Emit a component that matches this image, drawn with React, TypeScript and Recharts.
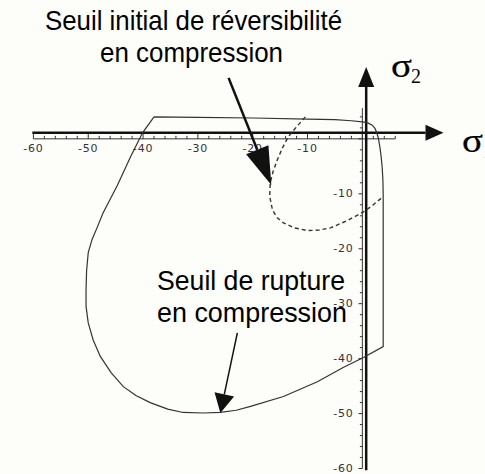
import { LineChart, Line, XAxis, YAxis, ReferenceLine } from 'recharts';

const W = 485;
const H = 474;

// contour du seuil de rupture (trait plein), parcouru dans le sens horaire
const ruptureX = [-38, -30, -20, -10, -5, -2, 0, 1, 1.8, 2.3, 2.6, 2.9, 3.2, 3.4, 3.6, 3.75, 3.8, 3.8,
  0.2, -3.5, -8.2, -14.4, -20.4, -23, -25.9, -29, -32.7, -35.5, -38.7, -41.3, -43.6, -45.8, -47.8,
  -49.1, -50, -50.4, -50.4, -50.3, -50, -49.3, -48.4, -47.3, -46, -44.7, -42.3, -40.1, -38];
const ruptureY = [4, 3.9, 3.8, 3.6, 3.5, 3.3, 3.1, 2.9, 2.5, 1.9, 1.2, 0.2, -1.5, -3, -5, -7.5, -10, -37.8,
  -39.8, -41.6, -44.2, -46.9, -48.7, -49.4, -49.8, -49.9, -49.8, -49.2, -48, -46.7, -45.1, -42.6, -39.6,
  -36.6, -33.5, -30.5, -27.5, -24, -20.7, -18.3, -16.2, -13.5, -11, -8.5, -3.3, 1.1, 4];

// seuil initial de réversibilité (pointillés)
const initialX = [-10.4, -12, -13.5, -14.6, -15.5, -16.3, -16.8, -16.9, -16.4, -15.6, -14.4, -12.4, -10,
  -7.9, -5.8, -2.8, 0.2, 2, 3.8];
const initialY = [4, 2.2, 0.4, -1.7, -3.8, -6, -8, -10.5, -12.9, -14.3, -15.3, -16.2, -16.7,
  -16.6, -16.2, -14.9, -13.3, -12, -10.5];

const xLabels = [-60, -50, -40, -30, -20, -10];
const yLabels = [-10, -20, -30, -40, -50, -60];

const rupture = ruptureX.map((x, i) => ({ x, y: ruptureY[i] }));
const initial = initialX.map((x, i) => ({ x, y: initialY[i] }));

const xMinor: number[] = [];
for (let t = -60; t <= 6; t += 2) xMinor.push(t);
const yMinor: number[] = [];
for (let t = -60; t <= 4; t += 2) yMinor.push(t);

const INK = '#111';

function arrow(len: number, half: number, width: number) {
  return (p: any) => {
    const { x1, y1, x2, y2 } = p;
    const dx = x2 - x1;
    const dy = y2 - y1;
    const d = Math.hypot(dx, dy) || 1;
    const ux = dx / d;
    const uy = dy / d;
    const bx = x2 - ux * len;
    const by = y2 - uy * len;
    return (
      <g>
        <line x1={x1} y1={y1} x2={bx} y2={by} stroke={INK} strokeWidth={width} />
        <polygon
          points={`${x2},${y2} ${bx - uy * half},${by + ux * half} ${bx + uy * half},${by - ux * half}`}
          fill={INK}
        />
      </g>
    );
  };
}

const tickText = { fontFamily: 'DejaVu Sans', fontSize: 11, fill: '#333', letterSpacing: 0.8 } as const;

function xTick(label?: number) {
  return (p: any) => (
    <g>
      <line x1={p.x1} y1={p.y1} x2={p.x2} y2={p.y2} stroke="#333" strokeWidth={1} />
      {label !== undefined && (
        <text x={p.x1} y={p.y1 + 13} textAnchor="middle" {...tickText}>{label}</text>
      )}
    </g>
  );
}

function yTick(label?: number) {
  return (p: any) => (
    <g>
      <line x1={p.x1} y1={p.y1} x2={p.x2} y2={p.y2} stroke="#333" strokeWidth={1} />
      {label !== undefined && (
        <text x={p.x2 - 5} y={p.y1 + 3} textAnchor="end" {...tickText}>{label}</text>
      )}
    </g>
  );
}

const labelFont = { fontFamily: 'Liberation Sans, Arial, sans-serif', fontSize: 28, fill: '#000' } as const;
const sigmaFont = { fontFamily: 'Liberation Serif, Times New Roman, serif', fill: '#000', stroke: '#000', strokeWidth: 0.2 } as const;

export default function App() {
  return (
    <div style={{ position: 'absolute', left: 0, top: 0, width: W, height: H, background: '#fdfdfa', overflow: 'hidden' }}>
      <LineChart width={W} height={H} margin={{ top: 7, right: 13, bottom: 0, left: 6 }}>
        <XAxis type="number" dataKey="x" domain={[-65, 20]} allowDataOverflow hide />
        <YAxis type="number" dataKey="y" domain={[-61, 24]} allowDataOverflow hide />

        {/* axes gradués */}
        <ReferenceLine segment={[{ x: -60, y: 0 }, { x: 6, y: 0 }]} stroke="#333" strokeWidth={1} />
        <ReferenceLine segment={[{ x: 0, y: -60 }, { x: 0, y: 5.6 }]} stroke="#333" strokeWidth={1} />
        {xMinor.map((t) => (
          <ReferenceLine
            key={`xt${t}`}
            segment={[{ x: t, y: 0 }, { x: t, y: t % 10 === 0 ? 0.9 : 0.55 }]}
            shape={xTick(xLabels.includes(t) ? t : undefined)}
          />
        ))}
        {yMinor.map((t) => (
          <ReferenceLine
            key={`yt${t}`}
            segment={[{ x: 0, y: t }, { x: t % 10 === 0 ? -0.7 : -0.45, y: t }]}
            shape={yTick(yLabels.includes(t) ? t : undefined)}
          />
        ))}

        {/* axes sigma 1 / sigma 2 */}
        <ReferenceLine segment={[{ x: -60.2, y: 1.1 }, { x: 14.8, y: 1.1 }]} shape={arrow(18, 8, 2.5)} />
        <ReferenceLine segment={[{ x: 0.7, y: -60.3 }, { x: 0.7, y: 13.1 }]} shape={arrow(20, 8, 2.5)} />

        <Line
          data={rupture}
          dataKey="y"
          type="linear"
          stroke="#333"
          strokeWidth={1.2}
          dot={false}
          activeDot={false}
          isAnimationActive={false}
        />
        <Line
          data={initial}
          dataKey="y"
          type="linear"
          stroke="#333"
          strokeWidth={1.4}
          strokeDasharray="4 3"
          dot={false}
          activeDot={false}
          isAnimationActive={false}
        />

        {/* flèches d'annotation */}
        <ReferenceLine segment={[{ x: -24.4, y: 11.1 }, { x: -16.6, y: -8.4 }]} shape={arrow(38, 12, 2.5)} />
        <ReferenceLine segment={[{ x: -22.8, y: -35.3 }, { x: -25.9, y: -49.9 }]} shape={arrow(19, 10, 1.5)} />
      </LineChart>

      <svg width={W} height={H} style={{ position: 'absolute', left: 0, top: 0, pointerEvents: 'none' }}>
        <text x={45} y={30} textLength={297} lengthAdjust="spacingAndGlyphs" {...labelFont}>Seuil initial de réversibilité</text>
        <text x={100} y={62} textLength={183} lengthAdjust="spacingAndGlyphs" {...labelFont}>en compression</text>
        <text x={157} y={290} textLength={188} lengthAdjust="spacingAndGlyphs" {...labelFont}>Seuil de rupture</text>
        <text x={157} y={322} textLength={190} lengthAdjust="spacingAndGlyphs" {...labelFont}>en compression</text>

        <text x={391} y={77} fontSize={33} textLength={21} lengthAdjust="spacingAndGlyphs" {...sigmaFont}>σ</text>
        <text x={411} y={83} fontSize={20} {...sigmaFont} strokeWidth={0}>2</text>
        <text x={462} y={152} fontSize={33} textLength={21} lengthAdjust="spacingAndGlyphs" {...sigmaFont}>σ</text>
        <text x={483} y={158} fontSize={20} {...sigmaFont} strokeWidth={0}>1</text>
      </svg>
    </div>
  );
}
